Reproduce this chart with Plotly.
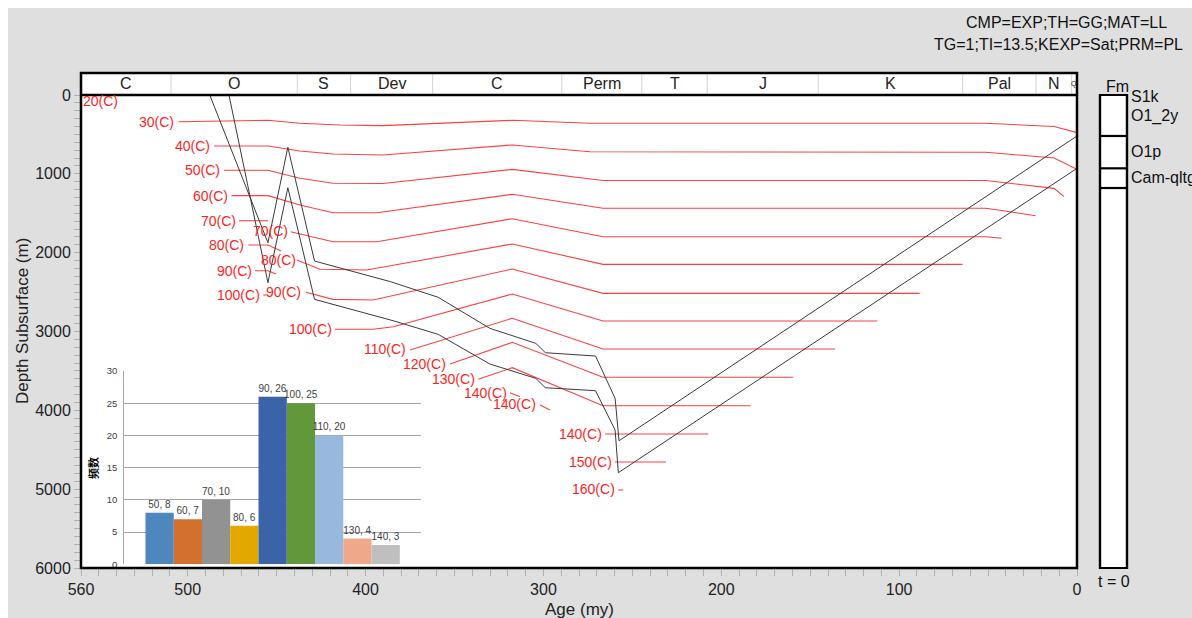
import plotly.graph_objects as go

# ---------------- data ----------------
period_names = ["C", "O", "S", "Dev", "C", "Perm", "T", "J", "K", "Pal", "N", "Q"]
period_bounds = [560, 509.4, 438.4, 408.4, 362.3, 289.7, 244.7, 207.9, 145.5, 64.3, 23.0, 3.0, 0]

# burial history horizons (age my, depth m)
top_age = [487.6, 454.9, 443.7, 428.7, 386.0, 359.2, 330.1, 304.3, 298.9, 270.7, 259.7, 257.5, 0]
top_depth = [0, 1874, 663, 2106, 2368, 2566, 2960, 3150, 3269, 3311, 3848, 4386, 520]
base_age = [476.8, 454.9, 443.7, 428.7, 383.9, 359.2, 330.1, 304.3, 298.9, 270.7, 259.7, 257.9, 0]
base_depth = [0, 2381, 1176, 2592, 2867, 3036, 3413, 3594, 3713, 3751, 4250, 4791, 930]

# isotherms (age my, depth m); None = gap where a label sits
iso30_age = [505.1, 454.9, 436.9, 414.4, 390.2, 317.5, 273.8, 51.2, 12.9, 0]
iso30_depth = [339, 321, 359, 381, 389, 321, 359, 359, 400, 478]
iso40_age = [485.2, 454.9, 436.9, 418.3, 390.2, 317.5, 273.8, 51.2, 12.9, 0]
iso40_depth = [647, 647, 710, 748, 761, 634, 719, 727, 799, 943]
iso50_age = [479.6, 454.9, 436.9, 418.3, 390.2, 317.5, 266.5, 51.2, 12.9, 7.3]
iso50_depth = [955, 955, 1057, 1120, 1123, 943, 1085, 1085, 1184, 1290]
iso60_age = [475.4, 454.9, 436.9, 418.3, 393.7, 317.5, 266.5, 51.2, 23.3]
iso60_depth = [1277, 1277, 1395, 1493, 1493, 1260, 1437, 1437, 1531]
iso70_age = [471.2, 454.9, None, 442.1, 418.3, 393.7, 317.5, 266.5, 51.2, 42.4]
iso70_depth = [1595, 1595, None, 1734, 1861, 1861, 1569, 1798, 1798, 1818]
iso80_age = [465.9, 454.9, 447.5, None, 438.7, 425.6, 399.4, 317.5, 266.5, 64.4]
iso80_depth = [1903, 1903, 1979, None, 2093, 2211, 2220, 1890, 2148, 2148]
iso90_age = [462.2, 454.9, 450.4, None, 433.5, 418.3, 395.8, 317.5, 266.5, 88.5]
iso90_depth = [2229, 2229, 2271, None, 2503, 2592, 2601, 2207, 2516, 2516]
iso100_age = [457.5, 454.9, None, 417.2, 395.8, 384.4, 317.5, 266.5, 112.3]
iso100_depth = [2537, 2537, None, 2972, 2972, 2939, 2525, 2867, 2867]
iso110_age = [375.0, 317.5, 266.5, 136.1]
iso110_depth = [3235, 2833, 3222, 3222]
iso120_age = [352.5, 317.5, 266.5, 159.5]
iso120_depth = [3413, 3137, 3581, 3581]
iso130_age = [336.6, 317.5, 266.5, 183.5]
iso130_depth = [3607, 3459, 3942, 3942]
iso140_age = [318.8, 313.2, None, 301.9, 296.3, None, 265.4, 207.3]
iso140_depth = [3777, 3827, None, 3933, 3996, None, 4301, 4301]
iso150_age = [259.8, 231.1]
iso150_depth = [4656, 4656]
iso160_age = [257.9, 255.1]
iso160_depth = [5011, 5011]

# isotherm labels
iso_label_text = ["20(C)", "30(C)", "40(C)", "50(C)", "60(C)", "70(C)", "80(C)", "90(C)", "100(C)",
                  "70(C)", "80(C)", "90(C)", "100(C)", "110(C)", "120(C)", "130(C)",
                  "140(C)", "140(C)", "140(C)", "150(C)", "160(C)"]
iso_label_age = [538.1, 506.6, 486.6, 480.7, 476.2, 472.0, 467.2, 463.0, 458.2,
                 453.3, 449.2, 445.9, 418.0, 375.9, 353.4, 337.6,
                 319.6, 302.8, 265.9, 260.3, 258.6]
iso_label_depth = [76, 339, 647, 955, 1277, 1595, 1903, 2229, 2537,
                   1721, 2093, 2495, 2972, 3222, 3413, 3607,
                   3777, 3924, 4301, 4652, 4998]
iso_label_anchor = ["right"] * 9 + ["center"] * 3 + ["right"] * 9

# formation column
fm_names = ["S1k", "O1_2y", "O1p", "Cam-qltg"]
fm_tops = [520, 930, 1180]

# inset histogram
hist_temp = [50, 60, 70, 80, 90, 100, 110, 130, 140]
hist_count = [8, 7, 10, 6, 26, 25, 20, 4, 3]
hist_colors = ["#4e86be", "#d4702d", "#929292", "#e2a800", "#3b63a8",
               "#62973a", "#98b8de", "#f0a88a", "#bfbfbf"]

# ---------------- layout helpers (window pixel coords -> paper) ----------------
W, H = 1192, 618
L, R, T, B = 81, 65, 95, 50
PW, PH = W - L - R, H - T - B


def px(x):
    return (x - L) / PW


def py(y):
    return (H - B - y) / PH


FONT = "Liberation Sans, Arial, sans-serif"
RED_LINE = "#ff4040"
RED_TEXT = "#ff1e1e"
GRAY_BG = "#dfdfdf"

fig = go.Figure()

iso_sets = [(iso30_age, iso30_depth), (iso40_age, iso40_depth), (iso50_age, iso50_depth),
            (iso60_age, iso60_depth), (iso70_age, iso70_depth), (iso80_age, iso80_depth),
            (iso90_age, iso90_depth), (iso100_age, iso100_depth), (iso110_age, iso110_depth),
            (iso120_age, iso120_depth), (iso130_age, iso130_depth), (iso140_age, iso140_depth),
            (iso150_age, iso150_depth), (iso160_age, iso160_depth)]
for a, d in iso_sets:
    fig.add_trace(go.Scatter(x=a, y=d, mode="lines", connectgaps=False,
                             line=dict(color=RED_LINE, width=1.1), hoverinfo="skip"))

for a, d in [(top_age, top_depth), (base_age, base_depth)]:
    fig.add_trace(go.Scatter(x=a, y=d, mode="lines", line=dict(color="#3a3a3a", width=1),
                             hoverinfo="skip"))

fig.add_trace(go.Bar(x=list(range(len(hist_temp))), y=hist_count, width=1,
                     marker=dict(color=hist_colors, line=dict(width=0)),
                     text=[f"{t}, {c}" for t, c in zip(hist_temp, hist_count)],
                     textposition="outside", constraintext="none", cliponaxis=False,
                     textfont=dict(size=10, color="#404040", family=FONT),
                     xaxis="x2", yaxis="y2", hoverinfo="skip"))

shapes = []
xr = px(1077)
hdr_top = py(73)
# gray page background (white 8px strip on top and left), around the plot area
gx0, gx1, gy0, gy1 = px(8), 1.08, -0.12, py(8)
for x0, x1, y0, y1 in [(gx0, gx1, 1, gy1), (gx0, gx1, gy0, 0), (gx0, 0, 0, 1), (xr, gx1, 0, 1)]:
    shapes.append(dict(type="rect", xref="paper", yref="paper", x0=x0, x1=x1, y0=y0, y1=y1,
                       fillcolor=GRAY_BG, line=dict(width=0), layer="below"))
# header background
shapes.append(dict(type="rect", xref="paper", yref="paper", x0=0, x1=xr, y0=1, y1=hdr_top,
                   fillcolor="white", line=dict(width=0), layer="below"))
for b in period_bounds[1:-1]:
    shapes.append(dict(type="line", xref="x", yref="paper", x0=b, x1=b, y0=1, y1=hdr_top,
                       line=dict(color="#d4d4d4", width=1)))
# frame
shapes.append(dict(type="rect", xref="paper", yref="paper", x0=0, x1=xr, y0=0, y1=hdr_top,
                   line=dict(color="black", width=2.5)))
shapes.append(dict(type="line", xref="paper", yref="paper", x0=0, x1=xr, y0=1, y1=1,
                   line=dict(color="black", width=2.5)))
# formation column
cx0, cx1 = px(1100), px(1127)
shapes.append(dict(type="rect", xref="paper", yref="paper", x0=cx0, x1=cx1, y0=0, y1=1,
                   fillcolor="white", line=dict(color="black", width=2.2), layer="below"))
shapes.append(dict(type="rect", xref="paper", yref="paper", x0=cx0, x1=cx1, y0=0, y1=1,
                   line=dict(color="black", width=2.2)))
for d in fm_tops:
    shapes.append(dict(type="line", xref="paper", yref="y", x0=cx0, x1=cx1, y0=d, y1=d,
                       line=dict(color="black", width=2.2)))

ann = []
for i, name in enumerate(period_names):
    mid = (period_bounds[i] + period_bounds[i + 1]) / 2
    ann.append(dict(x=mid, y=(1 + hdr_top) / 2, xref="x", yref="paper", text=name,
                    showarrow=False, font=dict(size=16 if name != "Q" else 7, color="#222"),
                    xanchor="center", yanchor="middle"))
for t, a, d, anc in zip(iso_label_text, iso_label_age, iso_label_depth, iso_label_anchor):
    ann.append(dict(x=a, y=d, xref="x", yref="y", text=t, showarrow=False,
                    font=dict(size=14, color=RED_TEXT), xanchor=anc, yanchor="middle"))
# formation labels
fm_label_y = [96, 116, 151, 177]
for name, yy in zip(fm_names, fm_label_y):
    ann.append(dict(x=px(1129), y=py(yy), xref="paper", yref="paper", text=name, showarrow=False,
                    font=dict(size=16, color="#111"), xanchor="left", yanchor="middle"))
ann.append(dict(x=px(1117), y=py(86), xref="paper", yref="paper", text="Fm", showarrow=False,
                font=dict(size=16, color="#111"), xanchor="center", yanchor="middle"))
ann.append(dict(x=px(1114), y=py(581), xref="paper", yref="paper", text="t = 0", showarrow=False,
                font=dict(size=16, color="#111"), xanchor="center", yanchor="middle"))
# top-right info
ann.append(dict(x=px(1066.5), y=py(22), xref="paper", yref="paper", text="CMP=EXP;TH=GG;MAT=LL",
                showarrow=False, font=dict(size=16, color="#111"), xanchor="center", yanchor="middle"))
ann.append(dict(x=px(1058.5), y=py(45), xref="paper", yref="paper", text="TG=1;TI=13.5;KEXP=Sat;PRM=PL",
                showarrow=False, font=dict(size=16, color="#111"), xanchor="center", yanchor="middle"))
# axis titles
ann.append(dict(x=px(579), y=py(609), xref="paper", yref="paper", text="Age (my)", showarrow=False,
                font=dict(size=17, color="#222"), xanchor="center", yanchor="middle"))
ann.append(dict(x=px(22), y=py(321), xref="paper", yref="paper", text="Depth Subsurface (m)",
                showarrow=False, textangle=-90, font=dict(size=17, color="#222"),
                xanchor="center", yanchor="middle"))
# inset y title
ann.append(dict(x=px(93), y=py(468), xref="paper", yref="paper", text="<b>频数</b>", showarrow=False,
                textangle=-90, font=dict(size=11, color="black", family="Noto Sans CJK SC"),
                xanchor="center", yanchor="middle"))

fig.update_layout(
    width=W, height=H,
    margin=dict(l=L, r=R, t=T, b=B),
    paper_bgcolor="white", plot_bgcolor="white",
    showlegend=False,
    font=dict(family=FONT, size=16, color="#222"),
    xaxis=dict(domain=[0, xr], range=[560, 0], tickvals=[560, 500, 400, 300, 200, 100, 0],
               ticks="outside", ticklen=7, tickcolor="#b0b0b0", showgrid=False, zeroline=False,
               showline=False, tickfont=dict(size=16, color="#222"),
               minor=dict(tickvals=list(range(0, 561, 10)), ticks="outside", ticklen=7,
                          tickcolor="#b0b0b0")),
    yaxis=dict(domain=[0, 1], range=[6000, 0], tickvals=list(range(0, 6001, 1000)),
               ticks="outside", ticklen=6, tickcolor="#b0b0b0", showgrid=False, zeroline=False,
               showline=False, tickfont=dict(size=16, color="#222"),
               minor=dict(tickvals=list(range(0, 6001, 100)), ticks="outside", ticklen=6,
                          tickcolor="#b0b0b0")),
    xaxis2=dict(domain=[px(124.3), px(421)], anchor="y2", range=[-1.25, 9.25],
                showticklabels=False, showgrid=False, zeroline=False, showline=False, ticks=""),
    yaxis2=dict(domain=[py(564.3), py(371)], anchor="x2", range=[0, 30], dtick=5,
                showgrid=True, gridcolor="#a6a6a6", gridwidth=1, zeroline=False,
                showline=True, linecolor="#a6a6a6", linewidth=1,
                tickfont=dict(size=9.5, color="#404040"), ticks="outside", ticklen=4,
                tickcolor="rgba(0,0,0,0)"),
    shapes=shapes,
    annotations=ann,
)

fig.write_html("out.html", config={"displayModeBar": False},
               post_script="document.body.style.margin='0px';")
